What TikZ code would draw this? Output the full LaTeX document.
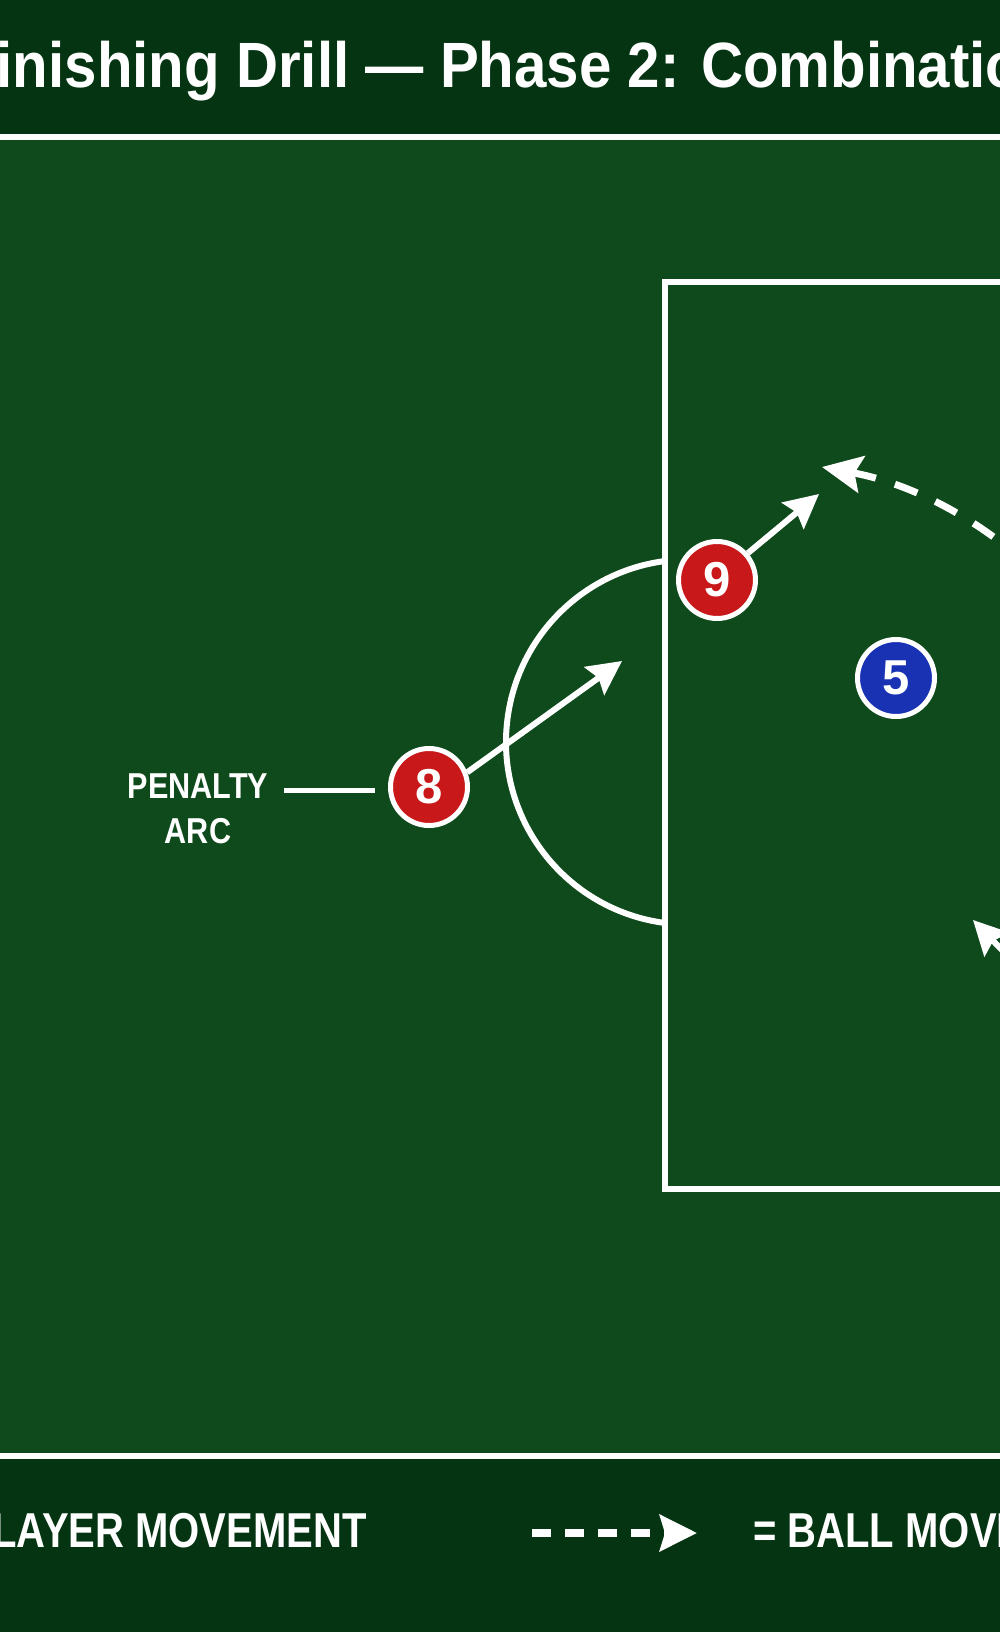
\documentclass[tikz,border=0pt]{standalone}
\usepackage{fontspec}
\setmainfont{Liberation Sans}
\newfontfamily\titlefont[FakeStretch=0.91]{Liberation Sans}
\newfontfamily\legendfont[FakeStretch=0.817]{Liberation Sans}
\newfontfamily\arcfont[FakeStretch=0.85]{Liberation Sans}
\usetikzlibrary{positioning,arrows.meta}
\definecolor{bandgreen}{RGB}{5,52,18}
\definecolor{pitchgreen}{RGB}{14,74,27}
\definecolor{attackred}{RGB}{200,24,26}
\definecolor{defendblue}{RGB}{25,50,180}
\tikzset{
    pitchline/.style = {
        draw=white,
        line width=6pt
    },
    player/.style = {
        draw=white,
        shape=circle,
        minimum size=77pt,
        inner sep=0pt,
        line width=5pt,
        text=white,
        font=\fontsize{49}{49}\selectfont\bfseries
    },
    attacker/.style = {player, fill=attackred},
    defender/.style = {player, fill=defendblue},
    runarrow/.style = {
        draw=white,
        line width=6pt,
        -{Stealth[length=34pt, width=34pt, inset=5pt]}
    },
    passarrow/.style = {
        draw=white,
        line width=7pt,
        dash pattern=on 24pt off 20pt,
        {Stealth[length=40pt, width=37pt, inset=7pt]}-
    },
    legendpass/.style = {
        draw=white,
        line width=8pt,
        dash pattern=on 19pt off 14pt,
        -{Stealth[length=37pt, width=36pt, inset=5pt]}
    },
    labeltext/.style = {
        text=white,
        inner sep=0pt
    },
}

\begin{document}
\begin{tikzpicture}[x=1pt, y=-1pt]
                \useasboundingbox (0,0) rectangle (1000,1632);
                \clip (0,0) rectangle (1000,1632);
                \fill[bandgreen] (0,0) rectangle (1000,1632);
                \fill[pitchgreen] (0,137) rectangle (1000,1455.5);

                \node[labeltext, anchor=base west,
                    font=\titlefont\fontsize{64}{64}\selectfont\bfseries]
                    (title) at (-39,88) {Finishing Drill — Phase 2: Combination};

                % pitch markings
                \path[pitchline] (0,137) -- (1000,137);
                \path[pitchline] (0,1455.5) -- (1000,1455.5);
                \path[pitchline] (1010,281.5) -| (665,1189) -- (1010,1189);
                \coordinate (arccentre) at (688.5,742);
                \path[pitchline] (arccentre) ++(97.4:182.5)
                    arc[start angle=97.4, end angle=262.6, radius=182.5];

                \node[labeltext, align=center,
                    font=\arcfont\fontsize{36}{45}\selectfont\bfseries]
                    (arclabel) at (198,809) {PENALTY\\ARC};
                \coordinate (leadstart) at (284,790);
                \coordinate (leadend) at (375,790);
                \path[draw=white, line width=5pt] (leadstart) -- (leadend);

                % players
                \node[attacker] (p8) at (429,787) {8};
                \node[attacker] (p9) at (717,580) {9};
                \node[defender] (p5) at (896,678) {5};

                \coordinate (run8) at (622,661);
                \coordinate (run9) at (819,494);
                \coordinate (runlow) at (973,920);
                \coordinate (runlowfrom) at (1060,1010);
                \path[runarrow] (p8.21) -- (run8);
                \path[runarrow] (p9.41) -- (run9);
                \path[runarrow] (runlowfrom) -- (runlow);

                \coordinate (balltip) at (822,467);
                \path[passarrow] (balltip)
                    arc[start angle=-79.4, end angle=-30, radius=440];

                % legend
                \node[labeltext, anchor=base east,
                    font=\legendfont\fontsize{49}{49}\selectfont\bfseries]
                    (keyrun) at (367,1547) {PLAYER MOVEMENT};
                \coordinate (keyfrom) at (532,1533);
                \coordinate (keyto) at (697,1533);
                \path[legendpass] (keyfrom) -- (keyto);
                \node[labeltext, anchor=base west,
                    font=\legendfont\fontsize{49}{49}\selectfont\bfseries]
                    (keypass) at (753,1547) {= BALL MOVEMENT};
\end{tikzpicture}
\end{document}
